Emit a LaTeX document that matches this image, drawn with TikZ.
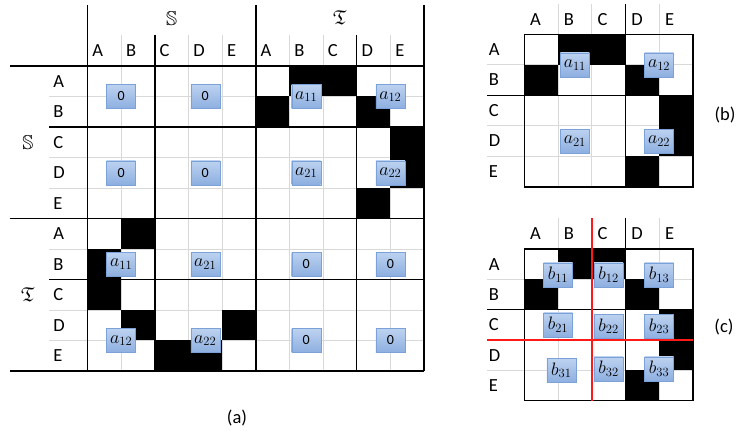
\documentclass[tikz,border=0pt]{standalone}
\usepackage{fix-cm}
\usepackage{amsmath}
\usepackage{amssymb}
\usepackage{fontspec}
\setmainfont{Carlito}
\usetikzlibrary{positioning}
\definecolor{gridgray}{HTML}{D9D9D9}
\definecolor{boxtop}{HTML}{BDD2F0}
\definecolor{boxbot}{HTML}{8DAFE0}
\definecolor{boxedge}{HTML}{7AA2D8}
\definecolor{cutred}{HTML}{FF1A1A}

\begin{document}
\begin{tikzpicture}[
  x=1pt, y=-1pt,
  gline/.style={draw=gridgray, line width=0.8pt},
  bline/.style={draw=black, line width=1.5pt},
  rline/.style={draw=cutred, line width=1.6pt},
  hd/.style={anchor=west, inner sep=0pt, font=\fontsize{18.5}{20}\selectfont},
  sym/.style={inner sep=0pt, font=\fontsize{20}{22}\selectfont},
  blk/.style={draw=boxedge, top color=boxtop, bottom color=boxbot,
              minimum width=29pt, minimum height=24pt, inner sep=1pt,
              font=\fontsize{14}{15}\selectfont},
  mblk/.style={blk, font=\fontsize{18}{19}\selectfont},
  tag/.style={font=\fontsize{18.5}{20}\selectfont}
]
  \useasboundingbox (0,0) rectangle (737,435);

  % (a) full matrix
  \begin{scope}[shift={(87.5,66)}, x=33.65pt, y=-30.5pt]
    \foreach \j in {1,...,9} \draw[gline] (-1.14,\j) -- (10,\j);
    \foreach \i in {1,...,9} \draw[gline] (\i,-1.02) -- (\i,10);
    \foreach \i/\j in {6/0,7/0,5/1,8/1,9/2,9/3,8/4,1/5,0/6,0/7,1/8,4/8,2/9,3/9}
      \fill (\i,\j) rectangle ++(1,1);
    \foreach \i in {0,5,10} \draw[bline] (\i,-2) -- (\i,10);
    \foreach \i in {2,8} \draw[bline] (\i,-1.02) -- (\i,10);
    \foreach \j in {0,5,10} \draw[bline] (-2.3,\j) -- (10,\j);
    \foreach \j in {2,7} \draw[bline] (-1.14,\j) -- (10,\j);
    \foreach \lt [count=\i from 0] in {A,B,C,D,E,A,B,C,D,E} {
      \node[hd] (ca\i) at (\i+0.14,-0.5) {\lt};
      \node[hd] (ra\i) at (-1.02,\i+0.5) {\lt};
    }
    \node[sym] (hs) at (2.5,-1.55) {$\mathbb{S}$};
    \node[sym] (ht) at (7.5,-1.6) {$\mathfrak{T}$};
    \node[sym] (vs) at (-1.77,2.5) {$\mathbb{S}$};
    \node[sym] (vt) at (-1.77,7.5) {$\mathfrak{T}$};
    \foreach \x/\y/\s/\t [count=\k] in {1/1/blk/0, 3.5/1/blk/0, 1/3.5/blk/0, 3.5/3.5/blk/0,
        6.5/1/mblk/$a_{11}$, 9/1/mblk/$a_{12}$, 6.5/3.5/mblk/$a_{21}$, 9/3.5/mblk/$a_{22}$,
        1/6.5/mblk/$a_{11}$, 3.5/6.5/mblk/$a_{21}$, 1/9/mblk/$a_{12}$, 3.5/9/mblk/$a_{22}$,
        6.5/6.5/blk/0, 9/6.5/blk/0, 6.5/9/blk/0, 9/9/blk/0}
      \node[\s] (ba\k) at (\x,\y) {\t};
  \end{scope}
  \node[tag] (ta) at (237,418) {(a)};

  % (b) off-diagonal block
  \begin{scope}[shift={(524.3,34.3)}, x=33.7pt, y=-30.5pt]
    \foreach \j in {1,3,4} \draw[gline] (-1.1,\j) -- (5,\j);
    \foreach \i in {1,2,4} \draw[gline] (\i,-1) -- (\i,5);
    \foreach \i/\j in {1/0,2/0,0/1,3/1,4/2,4/3,3/4}
      \fill (\i,\j) rectangle ++(1,1);
    \draw[bline] (0,0) rectangle (5,5);
    \draw[bline] (3,-1) -- (3,5);
    \draw[bline] (-1.1,2) -- (5,2);
    \foreach \lt [count=\i from 0] in {A,B,C,D,E} {
      \node[hd] (cb\i) at (\i+0.17,-0.47) {\lt};
      \node[hd] (rb\i) at (-1.06,\i+0.5) {\lt};
    }
    \foreach \x/\y/\t [count=\k] in {1.5/1/$a_{11}$, 4/1/$a_{12}$,
        1.5/3.5/$a_{21}$, 4/3.5/$a_{22}$}
      \node[mblk] (bb\k) at (\x,\y) {\t};
  \end{scope}
  \node[tag] (tb) at (725,115) {(b)};

  % (c) finer split
  \begin{scope}[shift={(524.3,249)}, x=33.7pt, y=-30.35pt]
    \foreach \j in {1,4} \draw[gline] (-1.1,\j) -- (5,\j);
    \foreach \i in {1,4} \draw[gline] (\i,-1.02) -- (\i,5);
    \foreach \i/\j in {1/0,2/0,0/1,3/1,4/2,4/3,3/4}
      \fill (\i,\j) rectangle ++(1,1);
    \draw[bline] (0,0) rectangle (5,5);
    \draw[bline] (3,-1.02) -- (3,5);
    \draw[bline] (-1.1,2) -- (5,2);
    \draw[rline] (2,-1.02) -- (2,5);
    \draw[rline] (-1.1,3) -- (5,3);
    \foreach \lt [count=\i from 0] in {A,B,C,D,E} {
      \node[hd] (cc\i) at (\i+0.17,-0.5) {\lt};
      \node[hd] (rc\i) at (-1.06,\i+0.5) {\lt};
    }
    \foreach \x/\y/\t [count=\k] in {1/0.85/$b_{11}$, 2.5/0.85/$b_{12}$, 4/0.85/$b_{13}$,
        1/2.5/$b_{21}$, 2.5/2.55/$b_{22}$, 4/2.55/$b_{23}$,
        1.1/4/$b_{31}$, 2.5/3.95/$b_{32}$, 4/3.95/$b_{33}$}
      \node[mblk] (bc\k) at (\x,\y) {\t};
  \end{scope}
  \node[tag] (tc) at (724,327) {(c)};
\end{tikzpicture}
\end{document}
